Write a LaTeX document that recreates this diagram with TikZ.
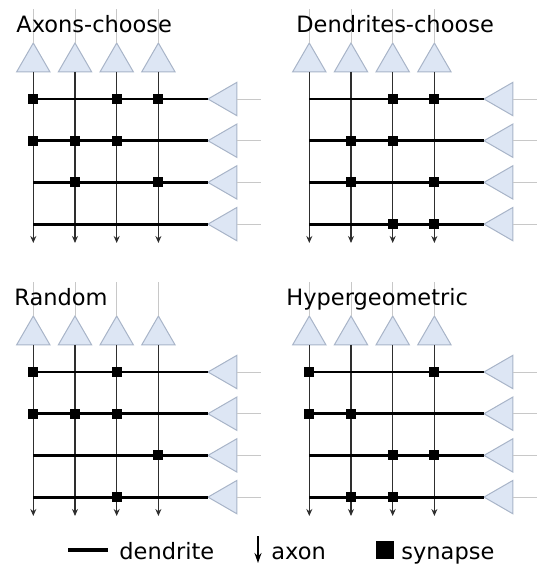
\documentclass[tikz,border=0pt]{standalone}
\usepackage{fontspec}
\setmainfont{DejaVu Sans}
\usetikzlibrary{arrows.meta,shapes.geometric,calc}
\definecolor{csoma}{HTML}{DDE6F4}
\definecolor{csomaD}{HTML}{A8B4C8}
\definecolor{cfeed}{HTML}{C8C8C8}
\definecolor{caxon}{HTML}{2E2E2E}
\tikzset{
  soma/.style={regular polygon, regular polygon sides=3, minimum size=19.3pt,
               inner sep=0pt, outer sep=0pt, fill=csoma, draw=csomaD, line width=0.5pt},
  somaup/.style={soma},
  somain/.style={soma, regular polygon rotate=90},
  feed/.style={draw=cfeed, line width=0.5pt},
  axon/.style={draw=caxon, line width=0.75pt, -{Stealth[length=3.5pt, width=3pt]}},
  axonkey/.style={draw=black, line width=0.75pt, -{Stealth[length=5pt, width=3.5pt]}},
  dend/.style={draw=black, line width=1.4pt},
  dendkey/.style={fill=black, minimum width=20pt, minimum height=2.2pt, inner sep=0pt},
  syn/.style={fill=black, minimum size=5pt, inner sep=0pt, outer sep=0pt},
  ttl/.style={font=\fontsize{11.25}{13}\selectfont, inner sep=0pt, anchor=base west},
  lbl/.style={ttl},
}

\begin{document}
\begin{tikzpicture}[x=0.5pt, y=-0.5pt]
  \useasboundingbox (0,0) rectangle (537,564);
  \foreach \ox/\oy/\tx/\ttl/\syn [count=\p] in {
      0/0/16/Axons-choose/{1/1,3/1,4/1,1/2,2/2,3/2,2/3,4/3},
      276/0/20/Dendrites-choose/{3/1,4/1,2/2,3/2,2/3,4/3,3/4,4/4},
      0/273/14/Random/{1/1,3/1,1/2,2/2,3/2,4/3,3/4},
      276/273/10/Hypergeometric/{1/1,4/1,1/2,2/2,3/3,4/3,2/4,3/4}} {
    \begin{scope}[shift={(\ox,\oy)}]
      % somata: axons on top, dendrites on the right
      \foreach \i in {1,...,4} {
        \node[somaup] (u\i) at ({-8.4+41.7*\i}, 62.3) {};
        \node[somain] (r\i) at (227.3, {57.3+41.7*\i}) {};
        \coordinate (ft\i) at ({-8.4+41.7*\i}, 9);
        \coordinate (fr\i) at (261, {57.3+41.7*\i});
        \coordinate (e\i) at ({-8.4+41.7*\i}, 243);
      }
      \foreach \i in {1,...,4} {
        \draw[feed] (ft\i) -- (u\i.north);
        \draw[feed] (r\i.east) -- (fr\i);
        \draw[axon] (u\i.south) -- (e\i);
      }
      \foreach \i in {1,...,4}
        \draw[dend] (r\i.west) -- (u1.south |- r\i.west);
      \foreach \cc/\rr in \syn
        \node[syn] (s\cc\rr) at (u\cc.south |- r\rr.west) {};
      \node[ttl] (h\p) at (\tx, 32) {\ttl};
    \end{scope}
  }
  % legend
  \node[dendkey] (lgd) at (88,550) {};
  \node[lbl] (lgdt) at (119,559) {dendrite};
  \coordinate (lgat) at (258,536);
  \coordinate (lgab) at (258,563);
  \draw[axonkey] (lgat) -- (lgab);
  \node[lbl] (lgax) at (271,559) {axon};
  \node[syn, minimum size=9pt] (lgs) at (384.5,550) {};
  \node[lbl] (lgsy) at (401,559) {synapse};
\end{tikzpicture}
\end{document}
